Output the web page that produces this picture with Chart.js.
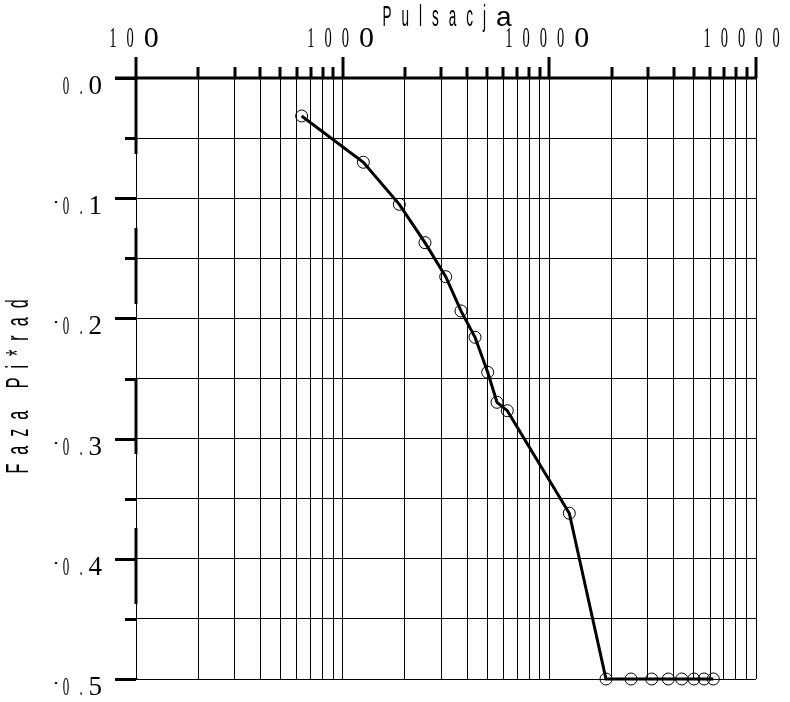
<!DOCTYPE html>
<html>
<head>
<meta charset="utf-8">
<script src="https://cdn.jsdelivr.net/npm/chart.js@4.4.0/dist/chart.umd.min.js"></script>
<style>
  html, body { margin: 0; padding: 0; background: #fff; }
  canvas { display: block; }
</style>
</head>
<body>
<canvas id="chart" width="790" height="702"></canvas>
<script>
// pulsacja (rad/s) and faza (pi*rad)
const pulsacja = [633, 1259, 1880, 2502, 3152, 3737, 4369, 5032, 5582, 6260,
  12490, 18800, 24850, 31280, 37650, 43700, 50100, 56030, 62150];
const faza = [-0.0316, -0.0701, -0.1051, -0.137, -0.1653, -0.1938, -0.2157, -0.2448, -0.2698, -0.2768,
  -0.3621, -0.5, -0.5, -0.5, -0.5, -0.5, -0.5, -0.5, -0.5];

const xTickValues = [100, 1000, 10000, 100000];
const xTickLabels = ['100', '1000', '10000', '100000'];
const yTickValues = [0, -0.1, -0.2, -0.3, -0.4, -0.5];
const yTickLabels = ['0.0', '-0.1', '-0.2', '-0.3', '-0.4', '-0.5'];

const xTitle = 'Pulsacja';
const yTitle = 'Faza Pi*rad';

// grid positions: 1..9 per decade on x, every 0.05 on y
const xGrid = [];
for (let e = 2; e < 5; e++) {
  for (let m = 1; m < 10; m++) xGrid.push(m * Math.pow(10, e));
}
xGrid.push(100000);
const yGrid = [];
for (let i = 0; i <= 10; i++) yGrid.push(-i * 0.05);

// draws a run of squeezed glyphs, last one may use a different font
function squeezed(ctx, text, cx, base, o) {
  const chars = text.split('');
  const parts = chars.map((ch, i) => {
    const last = i === chars.length - 1 && o.bigFont;
    const font = last ? o.bigFont : o.font;
    const sx = last ? 1 : o.sx;
    ctx.font = font;
    return { ch, font, sx, w: ctx.measureText(ch).width * sx };
  });
  const total = parts.reduce((s, p) => s + p.w, 0) + o.gap * (parts.length - 1);
  let pos = cx - total / 2 + (o.shift || 0);
  ctx.textAlign = 'left';
  ctx.textBaseline = 'alphabetic';
  parts.forEach(p => {
    ctx.save();
    ctx.font = p.font;
    ctx.translate(pos, base);
    ctx.scale(p.sx, 1);
    ctx.fillText(p.ch, 0, 0);
    ctx.restore();
    pos += p.w + o.gap;
  });
}

const axisDecor = {
  id: 'axisDecor',
  afterDraw(chart) {
    const { ctx, chartArea: a, scales: { x, y } } = chart;
    ctx.save();
    ctx.strokeStyle = '#000';
    ctx.fillStyle = '#000';
    ctx.lineWidth = 3;

    // top axis line and ticks
    ctx.beginPath();
    ctx.moveTo(a.left - 21, a.top);
    ctx.lineTo(a.right + 1, a.top);
    ctx.stroke();
    x.ticks.forEach(t => {
      const px = Math.round(x.getPixelForValue(t.value));
      const len = xTickValues.includes(t.value) ? 21 : 11;
      ctx.beginPath();
      ctx.moveTo(px, a.top);
      ctx.lineTo(px, a.top - len);
      ctx.stroke();
    });

    // left axis: broken thick line
    ctx.setLineDash([76, 74]);
    ctx.beginPath();
    ctx.moveTo(a.left, a.top);
    ctx.lineTo(a.left, a.bottom);
    ctx.stroke();
    ctx.setLineDash([]);
    y.ticks.forEach(t => {
      const py = Math.round(y.getPixelForValue(t.value)) + 0.5;
      const major = Math.abs(t.value * 10 - Math.round(t.value * 10)) < 1e-6;
      ctx.beginPath();
      ctx.moveTo(a.left, py);
      ctx.lineTo(a.left - (major ? 21 : 11), py);
      ctx.stroke();
    });

    // x tick labels
    xTickValues.forEach((v, i) => {
      const px = x.getPixelForValue(v);
      squeezed(ctx, xTickLabels[i], px, a.top - 31, {
        font: '29px "Liberation Serif"', sx: 0.5, gap: 10,
        bigFont: '30px "Liberation Serif"', shift: -2
      });
    });

    // y tick labels, laid out from the right
    const slots = [-34, -55, -70, -80];
    yTickValues.forEach((v, i) => {
      const py = y.getPixelForValue(v);
      const s = yTickLabels[i].split('').reverse();
      s.forEach((ch, k) => {
        ctx.save();
        ctx.textBaseline = 'alphabetic';
        if (k === 0) {
          ctx.font = '27px "Liberation Serif"';
          ctx.textAlign = 'right';
          ctx.fillText(ch, a.left + slots[0], py + 16);
        } else {
          ctx.font = '26px "Liberation Serif"';
          ctx.textAlign = 'center';
          ctx.translate(a.left + slots[k], py + 16);
          ctx.scale(ch === '-' ? 0.35 : 0.5, 1);
          ctx.fillText(ch, 0, ch === '-' ? -6 : 0);
        }
        ctx.restore();
      });
    });

    // titles
    squeezed(ctx, xTitle, (a.left + a.right) / 2 + 1, 26, {
      font: '30px "Liberation Sans"', sx: 0.45, gap: 10,
      bigFont: '28px "Liberation Sans"'
    });
    ctx.save();
    ctx.translate(28, (a.top + a.bottom) / 2 + 8);
    ctx.rotate(-Math.PI / 2);
    squeezed(ctx, yTitle, 0, 0, {
      font: '31px "Liberation Sans"', sx: 0.52, gap: 9
    });
    ctx.restore();

    ctx.restore();
  }
};

new Chart(document.getElementById('chart').getContext('2d'), {
  type: 'line',
  data: {
    datasets: [{
      data: pulsacja.map((p, i) => ({ x: p, y: faza[i] })),
      borderColor: '#000',
      borderWidth: 3,
      tension: 0,
      pointRadius: 6,
      pointBorderWidth: 1,
      pointBorderColor: '#000',
      pointBackgroundColor: 'rgba(0,0,0,0)',
      clip: false
    }]
  },
  options: {
    responsive: false,
    animation: false,
    devicePixelRatio: 1,
    layout: { padding: { top: 0, left: 0, right: 34, bottom: 23 } },
    plugins: { legend: { display: false }, tooltip: { enabled: false } },
    scales: {
      x: {
        type: 'logarithmic',
        position: 'top',
        min: 100,
        max: 100000,
        afterBuildTicks: s => { s.ticks = xGrid.map(v => ({ value: v })); },
        afterFit: s => { s.height = 78; },
        ticks: { display: false, autoSkip: false },
        grid: { color: '#000', lineWidth: 1, drawTicks: false },
        border: { display: false }
      },
      y: {
        type: 'linear',
        min: -0.5,
        max: 0,
        afterBuildTicks: s => { s.ticks = yGrid.map(v => ({ value: v })); },
        afterFit: s => { s.width = 136; },
        ticks: { display: false, autoSkip: false },
        grid: { color: '#000', lineWidth: 1, drawTicks: false },
        border: { display: false }
      }
    }
  },
  plugins: [axisDecor]
});
</script>
</body>
</html>
